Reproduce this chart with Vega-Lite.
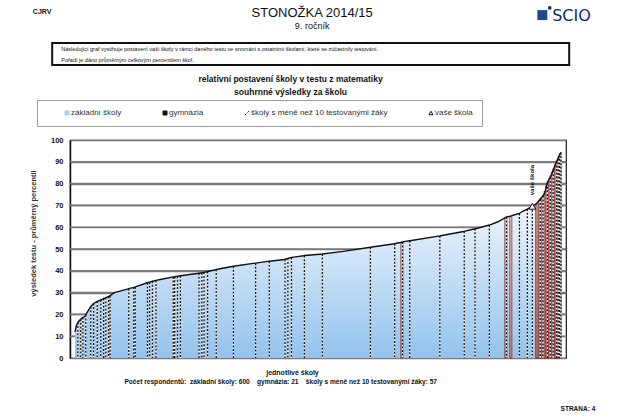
{
  "$schema": "https://vega.github.io/schema/vega-lite/v6.json",
  "width": 496,
  "height": 218,
  "autosize": {"type": "none"},
  "padding": {"left": 70, "top": 140, "right": 65, "bottom": 61},
  "background": "#ffffff",
  "config": {
    "font": "Liberation Sans",
    "view": {"stroke": "#1a1a1a", "strokeWidth": 1.2}
  },
  "resolve": {"axis": {"x": "independent", "y": "independent"}},
  "datasets": {
    "mrizka": [
      {"uroven": 10}, {"uroven": 20}, {"uroven": 30}, {"uroven": 40}, {"uroven": 50},
      {"uroven": 60}, {"uroven": 70}, {"uroven": 80}, {"uroven": 90}
    ]
  },
  "data": {
    "values": [
      {"poradi": 0, "hodnota": 12, "typ": "základní školy"},
      {"poradi": 2, "hodnota": 15, "typ": "základní školy"},
      {"poradi": 4, "hodnota": 16.3, "typ": "školy s méně než 10 testovanými žáky"},
      {"poradi": 7, "hodnota": 17.5, "typ": "základní školy"},
      {"poradi": 8, "hodnota": 17.8, "typ": "školy s méně než 10 testovanými žáky"},
      {"poradi": 11, "hodnota": 18.6, "typ": "školy s méně než 10 testovanými žáky"},
      {"poradi": 14, "hodnota": 19, "typ": "základní školy"},
      {"poradi": 15, "hodnota": 19.8, "typ": "školy s méně než 10 testovanými žáky"},
      {"poradi": 18, "hodnota": 21.5, "typ": "základní školy"},
      {"poradi": 22, "hodnota": 23.5, "typ": "školy s méně než 10 testovanými žáky"},
      {"poradi": 25, "hodnota": 24.8, "typ": "základní školy"},
      {"poradi": 26, "hodnota": 25, "typ": "školy s méně než 10 testovanými žáky"},
      {"poradi": 31, "hodnota": 26, "typ": "školy s méně než 10 testovanými žáky"},
      {"poradi": 32, "hodnota": 26.1, "typ": "základní školy"},
      {"poradi": 36, "hodnota": 26.6, "typ": "školy s méně než 10 testovanými žáky"},
      {"poradi": 40, "hodnota": 27.3, "typ": "školy s méně než 10 testovanými žáky"},
      {"poradi": 41, "hodnota": 27.4, "typ": "základní školy"},
      {"poradi": 43, "hodnota": 27.7, "typ": "školy s méně než 10 testovanými žáky"},
      {"poradi": 47, "hodnota": 28.2, "typ": "školy s méně než 10 testovanými žáky"},
      {"poradi": 49, "hodnota": 28.6, "typ": "školy s méně než 10 testovanými žáky"},
      {"poradi": 55, "hodnota": 30, "typ": "základní školy"},
      {"poradi": 73, "hodnota": 31.6, "typ": "základní školy"},
      {"poradi": 75, "hodnota": 31.8, "typ": "školy s méně než 10 testovanými žáky"},
      {"poradi": 82, "hodnota": 32.4, "typ": "školy s méně než 10 testovanými žáky"},
      {"poradi": 84, "hodnota": 32.6, "typ": "školy s méně než 10 testovanými žáky"},
      {"poradi": 100, "hodnota": 34.4, "typ": "základní školy"},
      {"poradi": 101, "hodnota": 34.5, "typ": "školy s méně než 10 testovanými žáky"},
      {"poradi": 104, "hodnota": 34.8, "typ": "školy s méně než 10 testovanými žáky"},
      {"poradi": 108, "hodnota": 35.2, "typ": "školy s méně než 10 testovanými žáky"},
      {"poradi": 113, "hodnota": 35.6, "typ": "školy s méně než 10 testovanými žáky"},
      {"poradi": 119, "hodnota": 36, "typ": "základní školy"},
      {"poradi": 137, "hodnota": 37.2, "typ": "školy s méně než 10 testovanými žáky"},
      {"poradi": 139, "hodnota": 37.3, "typ": "školy s méně než 10 testovanými žáky"},
      {"poradi": 141, "hodnota": 37.4, "typ": "základní školy"},
      {"poradi": 143, "hodnota": 37.5, "typ": "školy s méně než 10 testovanými žáky"},
      {"poradi": 147, "hodnota": 37.7, "typ": "školy s méně než 10 testovanými žáky"},
      {"poradi": 160, "hodnota": 38.3, "typ": "základní školy"},
      {"poradi": 173, "hodnota": 38.9, "typ": "školy s méně než 10 testovanými žáky"},
      {"poradi": 177, "hodnota": 39.1, "typ": "školy s méně než 10 testovanými žáky"},
      {"poradi": 178, "hodnota": 39.1, "typ": "základní školy"},
      {"poradi": 180, "hodnota": 39.3, "typ": "školy s méně než 10 testovanými žáky"},
      {"poradi": 185, "hodnota": 39.7, "typ": "školy s méně než 10 testovanými žáky"},
      {"poradi": 196, "hodnota": 40.5, "typ": "základní školy"},
      {"poradi": 197, "hodnota": 40.6, "typ": "školy s méně než 10 testovanými žáky"},
      {"poradi": 219, "hodnota": 42, "typ": "základní školy"},
      {"poradi": 221, "hodnota": 42.1, "typ": "školy s méně než 10 testovanými žáky"},
      {"poradi": 251, "hodnota": 43.5, "typ": "základní školy"},
      {"poradi": 252, "hodnota": 43.5, "typ": "školy s méně než 10 testovanými žáky"},
      {"poradi": 269, "hodnota": 44.3, "typ": "základní školy"},
      {"poradi": 271, "hodnota": 44.4, "typ": "školy s méně než 10 testovanými žáky"},
      {"poradi": 292, "hodnota": 45.2, "typ": "základní školy"},
      {"poradi": 293, "hodnota": 45.3, "typ": "školy s méně než 10 testovanými žáky"},
      {"poradi": 297, "hodnota": 45.7, "typ": "školy s méně než 10 testovanými žáky"},
      {"poradi": 302, "hodnota": 46.1, "typ": "školy s méně než 10 testovanými žáky"},
      {"poradi": 305, "hodnota": 46.3, "typ": "základní školy"},
      {"poradi": 319, "hodnota": 46.9, "typ": "základní školy"},
      {"poradi": 320, "hodnota": 47, "typ": "školy s méně než 10 testovanými žáky"},
      {"poradi": 342, "hodnota": 47.6, "typ": "základní školy"},
      {"poradi": 345, "hodnota": 47.7, "typ": "školy s méně než 10 testovanými žáky"},
      {"poradi": 374, "hodnota": 48.9, "typ": "základní školy"},
      {"poradi": 410, "hodnota": 50.7, "typ": "základní školy"},
      {"poradi": 412, "hodnota": 50.8, "typ": "školy s méně než 10 testovanými žáky"},
      {"poradi": 446, "hodnota": 52.4, "typ": "školy s méně než 10 testovanými žáky"},
      {"poradi": 447, "hodnota": 52.5, "typ": "základní školy"},
      {"poradi": 456, "hodnota": 53.1, "typ": "gymnázia"},
      {"poradi": 457, "hodnota": 53.2, "typ": "školy s méně než 10 testovanými žáky"},
      {"poradi": 465, "hodnota": 53.7, "typ": "základní školy"},
      {"poradi": 467, "hodnota": 53.8, "typ": "školy s méně než 10 testovanými žáky"},
      {"poradi": 509, "hodnota": 56, "typ": "školy s méně než 10 testovanými žáky"},
      {"poradi": 510, "hodnota": 56.1, "typ": "základní školy"},
      {"poradi": 542, "hodnota": 58, "typ": "základní školy"},
      {"poradi": 543, "hodnota": 58.1, "typ": "školy s méně než 10 testovanými žáky"},
      {"poradi": 558, "hodnota": 59.3, "typ": "školy s méně než 10 testovanými žáky"},
      {"poradi": 560, "hodnota": 59.4, "typ": "základní školy"},
      {"poradi": 578, "hodnota": 61, "typ": "školy s méně než 10 testovanými žáky"},
      {"poradi": 579, "hodnota": 61.1, "typ": "základní školy"},
      {"poradi": 590, "hodnota": 62.5, "typ": "základní školy"},
      {"poradi": 601, "hodnota": 64.5, "typ": "gymnázia"},
      {"poradi": 602, "hodnota": 64.7, "typ": "školy s méně než 10 testovanými žáky"},
      {"poradi": 608, "hodnota": 65.1, "typ": "gymnázia"},
      {"poradi": 611, "hodnota": 65.5, "typ": "základní školy"},
      {"poradi": 620, "hodnota": 66.3, "typ": "školy s méně než 10 testovanými žáky"},
      {"poradi": 624, "hodnota": 67.2, "typ": "základní školy"},
      {"poradi": 631, "hodnota": 68.3, "typ": "školy s méně než 10 testovanými žáky"},
      {"poradi": 636, "hodnota": 69.2, "typ": "základní školy"},
      {"poradi": 638, "hodnota": 69.6, "typ": "vaše škola"},
      {"poradi": 644, "hodnota": 70.8, "typ": "gymnázia"},
      {"poradi": 646, "hodnota": 71.6, "typ": "gymnázia"},
      {"poradi": 648, "hodnota": 72.4, "typ": "gymnázia"},
      {"poradi": 649, "hodnota": 72.8, "typ": "školy s méně než 10 testovanými žáky"},
      {"poradi": 650, "hodnota": 73.2, "typ": "gymnázia"},
      {"poradi": 652, "hodnota": 74, "typ": "gymnázia"},
      {"poradi": 653, "hodnota": 74.4, "typ": "školy s méně než 10 testovanými žáky"},
      {"poradi": 654, "hodnota": 74.8, "typ": "gymnázia"},
      {"poradi": 656, "hodnota": 76.6, "typ": "gymnázia"},
      {"poradi": 658, "hodnota": 79, "typ": "gymnázia"},
      {"poradi": 659, "hodnota": 80.2, "typ": "školy s méně než 10 testovanými žáky"},
      {"poradi": 660, "hodnota": 81, "typ": "gymnázia"},
      {"poradi": 662, "hodnota": 82.2, "typ": "gymnázia"},
      {"poradi": 663, "hodnota": 82.9, "typ": "školy s méně než 10 testovanými žáky"},
      {"poradi": 664, "hodnota": 83.6, "typ": "gymnázia"},
      {"poradi": 666, "hodnota": 85.2, "typ": "gymnázia"},
      {"poradi": 667, "hodnota": 86, "typ": "školy s méně než 10 testovanými žáky"},
      {"poradi": 668, "hodnota": 86.8, "typ": "gymnázia"},
      {"poradi": 670, "hodnota": 88.4, "typ": "gymnázia"},
      {"poradi": 671, "hodnota": 89.2, "typ": "gymnázia"},
      {"poradi": 672, "hodnota": 90, "typ": "školy s méně než 10 testovanými žáky"},
      {"poradi": 673, "hodnota": 90.8, "typ": "gymnázia"},
      {"poradi": 674, "hodnota": 91.5, "typ": "školy s méně než 10 testovanými žáky"},
      {"poradi": 675, "hodnota": 92.3, "typ": "gymnázia"},
      {"poradi": 676, "hodnota": 93, "typ": "školy s méně než 10 testovanými žáky"},
      {"poradi": 677, "hodnota": 93.8, "typ": "gymnázia"},
      {"poradi": 678, "hodnota": 94.3, "typ": "školy s méně než 10 testovanými žáky"}
    ]
  },
  "layer": [
    {
      "data": {"name": "mrizka"},
      "mark": {"type": "rule", "color": "#7a7a7a", "strokeWidth": 1.6, "opacity": 1},
      "encoding": {
        "y": {"field": "uroven", "type": "quantitative", "axis": null}
      }
    },
    {
      "mark": {
        "type": "area",
        "color": {
          "gradient": "linear", "x1": 0, "y1": 0, "x2": 0, "y2": 1,
          "stops": [
            {"offset": 0, "color": "#ffffff"},
            {"offset": 0.35, "color": "#e3effb"},
            {"offset": 1, "color": "#93c3ee"}
          ]
        }
      },
      "encoding": {
        "x": {
          "field": "poradi", "type": "quantitative",
          "scale": {"domain": [0, 678], "nice": false, "zero": false},
          "axis": {
            "title": "jednotlivé školy", "labels": false, "tickSize": 0, "tickWidth": 0, "domain": false, "grid": false,
            "titleFontSize": 7, "titleFontWeight": "bold", "titleColor": "#111111",
            "titleX": 222, "titleY": 14, "titleAlign": "center", "titleBaseline": "middle"
          }
        },
        "y": {
          "field": "hodnota", "type": "quantitative",
          "scale": {"domain": [0, 100], "nice": false},
          "axis": {
            "title": "výsledek testu - průměrný percentil",
            "values": [0, 10, 20, 30, 40, 50, 60, 70, 80, 90, 100],
            "labelOverlap": false,
            "grid": true, "gridColor": "#7a7a7a", "gridWidth": 1.6,
            "domainColor": "#111111", "domainWidth": 1.5, "tickSize": 0, "tickWidth": 0,
            "labelPadding": 7, "labelFontSize": 7.5, "labelFontWeight": "bold", "labelColor": "#111111",
            "titleFontSize": 7.5, "titleFontWeight": "bold", "titleColor": "#333333",
            "titleX": -37, "titleY": 93, "titleAngle": 270, "titleAlign": "center", "titleBaseline": "middle"
          }
        }
      }
    },
    {
      "transform": [{"filter": "datum.typ === 'gymnázia'"}],
      "mark": {
        "type": "bar", "orient": "vertical", "width": 2.2,
        "fill": {
          "gradient": "linear", "x1": 0, "y1": 0, "x2": 0, "y2": 1,
          "stops": [
            {"offset": 0, "color": "#e6bcbc"},
            {"offset": 1, "color": "#c98585"}
          ]
        },
        "stroke": "#7a1515", "strokeWidth": 0.6
      },
      "encoding": {
        "x": {"field": "poradi", "type": "quantitative", "axis": null},
        "y": {"field": "hodnota", "type": "quantitative", "axis": null}
      }
    },
    {
      "transform": [{"filter": "datum.typ === 'školy s méně než 10 testovanými žáky' || datum.typ === 'vaše škola'"}],
      "mark": {"type": "rule", "orient": "vertical", "color": "#ffffff", "strokeWidth": 1.3},
      "encoding": {
        "x": {"field": "poradi", "type": "quantitative", "axis": null},
        "y": {"field": "hodnota", "type": "quantitative", "axis": null},
        "y2": {"datum": 0}
      }
    },
    {
      "transform": [{"filter": "datum.typ === 'školy s méně než 10 testovanými žáky' || datum.typ === 'vaše škola'"}],
      "mark": {"type": "rule", "orient": "vertical", "color": "#111111", "strokeWidth": 1.3, "strokeDash": [2, 1.6]},
      "encoding": {
        "x": {"field": "poradi", "type": "quantitative", "axis": null},
        "y": {"field": "hodnota", "type": "quantitative", "axis": null},
        "y2": {"datum": 0}
      }
    },
    {
      "mark": {"type": "line", "color": "#111111", "strokeWidth": 1.4},
      "encoding": {
        "x": {"field": "poradi", "type": "quantitative", "axis": null},
        "y": {"field": "hodnota", "type": "quantitative", "axis": null}
      }
    },
    {
      "transform": [{"filter": "datum.typ === 'vaše škola'"}],
      "mark": {"type": "point", "shape": "triangle-up", "filled": true, "fill": "#ffffff", "stroke": "#111111", "strokeWidth": 1, "size": 45, "opacity": 1},
      "encoding": {
        "x": {"field": "poradi", "type": "quantitative", "axis": null},
        "y": {"field": "hodnota", "type": "quantitative", "axis": null}
      }
    },
    {
      "transform": [{"filter": "datum.typ === 'vaše škola'"}],
      "mark": {"type": "text", "angle": 270, "align": "left", "baseline": "middle", "dx": 11, "fontSize": 6, "fontWeight": "bold", "color": "#111111"},
      "encoding": {
        "x": {"field": "poradi", "type": "quantitative", "axis": null},
        "y": {"field": "hodnota", "type": "quantitative", "axis": null},
        "text": {"field": "typ", "type": "nominal"}
      }
    },
    {
      "mark": {"type": "point", "filled": true, "opacity": 0},
      "encoding": {
        "x": {"field": "poradi", "type": "quantitative", "axis": null},
        "y": {"field": "hodnota", "type": "quantitative", "axis": null},
        "color": {
          "field": "typ", "type": "nominal",
          "scale": {
            "domain": ["základní školy", "gymnázia", "školy s méně než 10 testovanými žáky", "vaše škola"],
            "range": ["#a8cdee", "#111111", "#111111", "#ffffff"]
          },
          "legend": {
            "title": "\u00a0", "titleOrient": "left", "titlePadding": 17, "titleFontSize": 8,
            "orient": "none", "legendX": -33, "legendY": -40, "direction": "horizontal",
            "gridAlign": "none",
            "padding": 9, "strokeColor": "#9e9e9e", "fillColor": "#ffffff",
            "labelFont": "Liberation Sans", "labelFontSize": 8, "labelColor": "#333333", "labelOffset": 0,
            "symbolSize": 16, "columnPadding": 39, "labelLimit": 400,
            "encode": {
              "symbols": {
                "update": {
                  "shape": {"signal": "datum.value === 'vaše škola' ? 'triangle-up' : datum.value === 'školy s méně než 10 testovanými žáky' ? 'M-1,1L-0.5,0.5M-0.15,0.15L0.25,-0.25M0.6,-0.6L1,-1' : 'square'"},
                  "fill": {"signal": "datum.value === 'základní školy' ? '#a8cdee' : datum.value === 'gymnázia' ? '#111111' : datum.value === 'vaše škola' ? '#ffffff' : 'transparent'"},
                  "stroke": {"signal": "datum.value === 'základní školy' ? '#a8cdee' : '#111111'"},
                  "strokeWidth": {"value": 1},
                  "opacity": {"value": 1},
                  "fillOpacity": {"value": 1},
                  "strokeOpacity": {"value": 1}
                }
              }
            }
          }
        }
      }
    },
    {
      "data": {"values": [{}]},
      "mark": {"type": "point", "shape": "M-1,-0.0426H1V0.0426H-1Z", "filled": true, "fill": "#ffffff", "stroke": "#111111", "strokeWidth": 2, "size": 267289, "opacity": 1},
      "encoding": {"x": {"datum": 328.8, "axis": null}, "y": {"datum": 139.45, "axis": null}}
    },
    {
      "data": {"values": [{}]},
      "mark": {"type": "text", "text": "Následující graf vystihuje postavení vaší školy v rámci daného testu ve srovnání s ostatními školami, které se zúčastnily testování.", "align": "left", "baseline": "middle", "fontSize": 5.5, "color": "#111111"},
      "encoding": {"x": {"datum": -19.1, "axis": null}, "y": {"datum": 141.7, "axis": null}}
    },
    {
      "data": {"values": [{}]},
      "mark": {"type": "text", "text": "Pořadí je dáno průměrným celkovým percentilem škol.", "align": "left", "baseline": "middle", "fontSize": 5.5, "color": "#111111"},
      "encoding": {"x": {"datum": -19.1, "axis": null}, "y": {"datum": 136.9, "axis": null}}
    },
    {
      "data": {"values": [{}]},
      "mark": {"type": "text", "text": "CJRV", "align": "left", "baseline": "middle", "fontSize": 7, "fontWeight": "bold", "color": "#111111"},
      "encoding": {"x": {"datum": -58.8, "axis": null}, "y": {"datum": 158.7, "axis": null}}
    },
    {
      "data": {"values": [{}]},
      "mark": {"type": "text", "text": "STONOŽKA 2014/15", "align": "center", "baseline": "middle", "fontSize": 13, "color": "#111111"},
      "encoding": {"x": {"datum": 330.8, "axis": null}, "y": {"datum": 158.3, "axis": null}}
    },
    {
      "data": {"values": [{}]},
      "mark": {"type": "text", "text": "9. ročník", "align": "center", "baseline": "middle", "fontSize": 9, "color": "#111111"},
      "encoding": {"x": {"datum": 330.8, "axis": null}, "y": {"datum": 152.1, "axis": null}}
    },
    {
      "data": {"values": [{}]},
      "mark": {"type": "point", "shape": "square", "filled": true, "color": "#1c4b8f", "size": 100, "opacity": 1},
      "encoding": {"x": {"datum": 652, "axis": null}, "y": {"datum": 157.3, "axis": null}}
    },
    {
      "data": {"values": [{}]},
      "mark": {"type": "point", "shape": "square", "filled": true, "color": "#0a2550", "size": 10, "opacity": 1},
      "encoding": {"x": {"datum": 662.3, "axis": null}, "y": {"datum": 160.6, "axis": null}}
    },
    {
      "data": {"values": [{}]},
      "mark": {"type": "text", "text": "SCIO", "align": "left", "baseline": "middle", "font": "DejaVu Sans", "fontSize": 16, "color": "#0c2f5f"},
      "encoding": {"x": {"datum": 665.7, "axis": null}, "y": {"datum": 157.1, "axis": null}}
    },
    {
      "data": {"values": [{}]},
      "mark": {"type": "text", "text": ["relativní postavení školy v testu z matematiky", "souhrnné výsledky za školu"], "lineHeight": 13, "align": "center", "baseline": "middle", "fontSize": 8.5, "fontWeight": "bold", "color": "#111111"},
      "encoding": {"x": {"datum": 300.7, "axis": null}, "y": {"datum": 128, "axis": null}}
    },
    {
      "data": {"values": [{}]},
      "mark": {"type": "text", "text": "Počet respondentů:\u00a0 základní školy: 600\u00a0\u00a0\u00a0 gymnázia: 21\u00a0\u00a0\u00a0 školy s méně než 10 testovanými žáky: 57", "align": "center", "baseline": "middle", "fontSize": 6.6, "fontWeight": "bold", "color": "#111111"},
      "encoding": {"x": {"datum": 287, "axis": null}, "y": {"datum": -11, "axis": null}}
    },
    {
      "data": {"values": [{}]},
      "mark": {"type": "text", "text": "STRANA: 4", "align": "right", "baseline": "middle", "fontSize": 6.5, "fontWeight": "bold", "color": "#111111"},
      "encoding": {"x": {"datum": 725.8, "axis": null}, "y": {"datum": -23.4, "axis": null}}
    }
  ]
}
